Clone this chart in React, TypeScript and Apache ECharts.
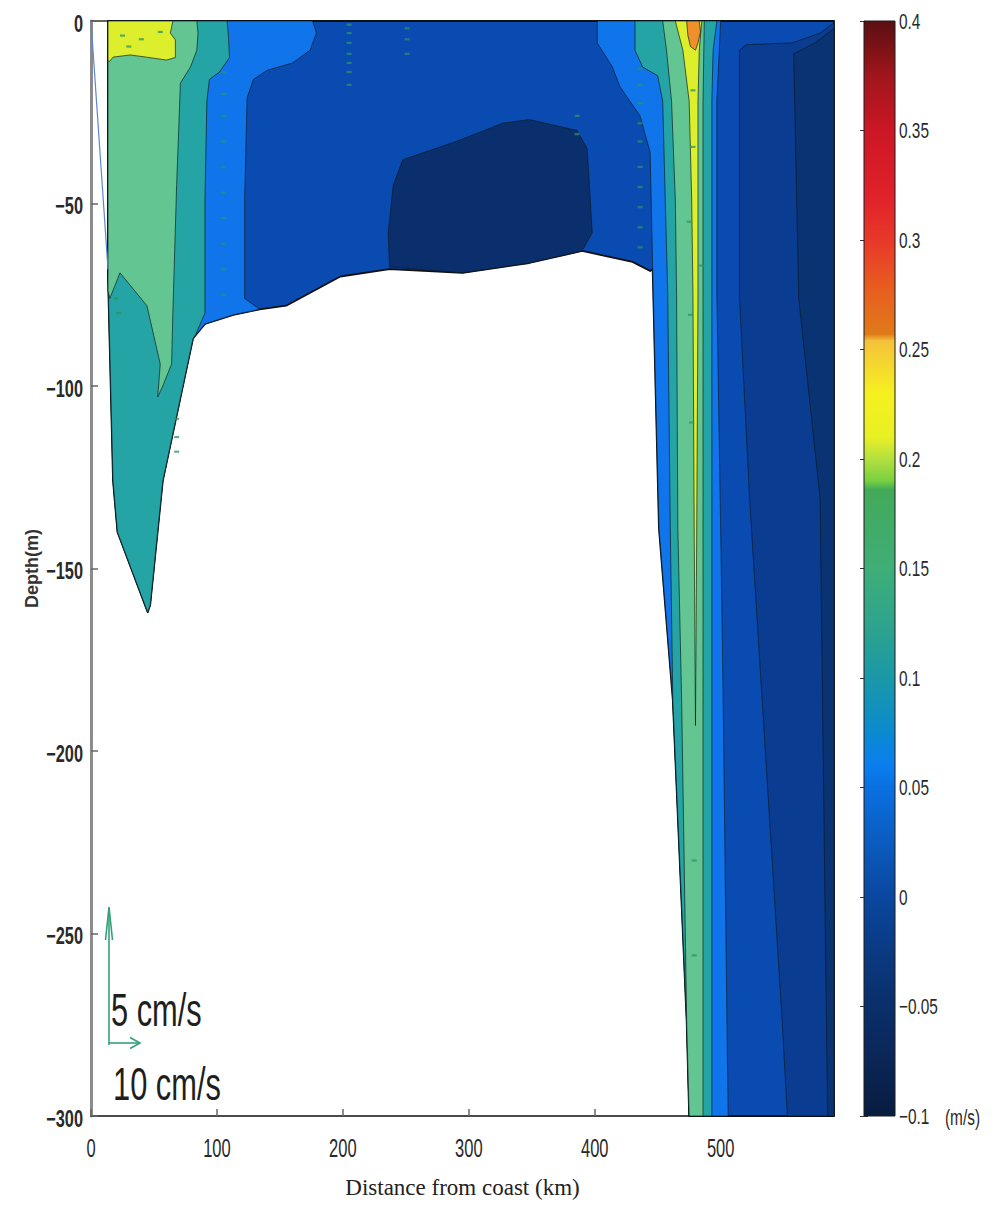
import React, { useEffect, useRef } from "react";
import * as echarts from "echarts";

type Pt = [number, number];

// ---------- axes / ticks ----------
const xTickValues = [0, 100, 200, 300, 400, 500];
const yTickValues = [0, -50, -100, -150, -200, -250, -300];
const xRange: Pt = [0, 590];
const yRange: Pt = [-300, 0];
const colorbarRange: Pt = [-0.1, 0.4];
const colorbarTickValues = [-0.1, -0.05, 0, 0.05, 0.1, 0.15, 0.2, 0.25, 0.3, 0.35, 0.4];

// ---------- contour regions (km, depth m) ----------
const coastLine: Pt[] = [[0, 0], [13.5, -68]];

const waterDomain: Pt[] = [
  [13.5, 0], [590, 0], [590, -300], [475, -300], [473, -274], [462, -186], [451, -139], [446, -68],
  [444, -68.5], [430, -66], [390, -63], [348, -66.3], [295, -69], [237, -68], [198, -70], [155, -78],
  [134, -79], [113, -80.5], [90.5, -83], [81, -87], [57, -126], [47, -160], [45, -162], [21, -140],
  [17.5, -126], [13.5, -70],
];
const navyCore: Pt[] = [
  [247.6, -38], [290, -33], [327, -28], [348, -27], [386, -30], [394, -35], [398, -58], [390, -63],
  [348, -66.3], [295, -69], [237, -67.4], [236, -58], [240, -45],
];
const rightMinus02: Pt[] = [
  [515, -8], [520, -6.5], [557, -6], [579, -3.3], [590, -0.5], [590, -300], [553, -300], [549, -275],
  [523, -131], [515, -76],
];
const rightMinus04: Pt[] = [
  [558, -9], [575, -6], [590, -2], [590, -300], [585, -300], [584, -275], [579, -131], [562, -76],
];
const leftBrightBlue: Pt[] = [
  [13.5, 0], [176, 0], [179, -3.3], [174, -8], [160, -11.5], [140, -13.5], [129, -16], [124, -21],
  [122, -49], [122, -76], [134, -79], [113, -80.5], [90.5, -83], [81, -87], [57, -126], [47, -160],
  [45, -162], [21, -140], [17.5, -126], [13.5, -70],
];
const leftTeal: Pt[] = [
  [13.5, 0], [108, 0], [109, -3.3], [110, -10], [102, -14], [94, -16], [92, -22], [90.5, -49],
  [90.5, -80], [83, -86], [81, -87], [57, -126], [47, -160], [45, -162], [21, -140], [17.5, -126],
  [13.5, -70],
];
const leftGreen: Pt[] = [
  [13.5, 0], [84, 0], [85, -3.3], [84, -8], [79, -12.6], [71, -17], [68, -45], [65, -80], [64, -94],
  [57, -100], [53, -103], [55, -94], [44.4, -78], [23, -69], [15, -76], [13.5, -74],
];
const leftYellow: Pt[] = [
  [13.5, 0], [65, 0], [63, -3.3], [67, -5.2], [67, -10], [60, -10.7], [44, -9.9], [31, -9.3],
  [17.5, -9.9], [15, -11], [13.5, -11],
];
const rightBrightBlue: Pt[] = [
  [402, 0], [402, -6], [414, -12.6], [420, -18], [436, -26], [444, -36], [446, -68], [451, -139],
  [462, -186], [473, -274], [475, -300], [506, -300], [505, -274], [502, -186], [500, -139],
  [497, -75], [497, -22], [500, 0],
];
const rightTeal: Pt[] = [
  [432, 0], [432, -8], [438, -12.6], [450, -15], [454, -22], [456, -49], [458, -75], [460, -139],
  [462, -186], [473, -274], [475, -300], [493, -300], [493, -22], [494, -8], [497, 0],
];
const rightGreen: Pt[] = [
  [454, 0], [457, -8], [461, -22], [464, -49], [465, -75], [466, -139], [469, -186], [473, -274],
  [475, -300], [486, -300], [486, -22], [487, 0],
];
const rightYellow: Pt[] = [
  [464, 0], [470, -8], [475, -22], [477, -49], [478, -75], [479, -140], [480, -193], [481, -140],
  [482, -75], [482, -22], [483, -8], [485, 0],
];
const rightOrange: Pt[] = [
  [473, 0], [483, 0], [484, -3], [482, -6], [480, -8], [476, -7], [474, -4],
];

const contourRegions: { level: number; pts: Pt[] }[] = [
  { level: 0, pts: waterDomain },
  { level: -0.05, pts: navyCore },
  { level: -0.02, pts: rightMinus02 },
  { level: -0.04, pts: rightMinus04 },
  { level: 0.05, pts: leftBrightBlue },
  { level: 0.1, pts: leftTeal },
  { level: 0.15, pts: leftGreen },
  { level: 0.2, pts: leftYellow },
  { level: 0.05, pts: rightBrightBlue },
  { level: 0.1, pts: rightTeal },
  { level: 0.15, pts: rightGreen },
  { level: 0.2, pts: rightYellow },
  { level: 0.25, pts: rightOrange },
];

// ---------- quiver stubs (tiny vertical-velocity arrows), km / m ----------
const quiverStubs: Pt[] = [
  [105, -14], [105, -20], [105, -26], [105, -33], [105, -40], [105, -47], [105, -54], [105, -61], [105, -68], [105, -75],
  [205, -1], [205, -3.3], [205, -6], [205, -9], [205, -11.5], [205, -14], [205, -17.5],
  [251, -2], [251, -5], [251, -9],
  [386, -26], [386, -31],
  [436, -13], [436, -17.5], [436, -22.5], [436, -28], [436, -33], [436, -40], [436, -45.5], [436, -51], [436, -56.5], [436, -62],
  [478, -19], [478, -34.5], [475, -55], [485, -67], [476, -80.5], [477, -110], [479, -230], [479, -256],
  [68, -109], [68, -114], [68, -118], [20, -76], [22, -80],
  [25, -4], [40, -5], [55, -3], [30, -7],
];

// ---------- styles ----------
const levelPalette: Record<string, string> = {
  "-0.05": "#0b2f6c",
  "-0.04": "#0a3374",
  "-0.02": "#0a3d92",
  "0": "#0a4bb2",
  "0.05": "#1074ea",
  "0.1": "#25a4a6",
  "0.15": "#63c591",
  "0.2": "#dcee2c",
  "0.25": "#f0902c",
};

const colorbarStops: [number, string][] = [
  [0.4, "#5a0f12"],
  [0.375, "#a0161c"],
  [0.35, "#cc1626"],
  [0.32, "#e0222a"],
  [0.3, "#e8382a"],
  [0.28, "#e85a20"],
  [0.257, "#e07a1a"],
  [0.254, "#f4c23a"],
  [0.23, "#f6f020"],
  [0.21, "#e8f024"],
  [0.2, "#b4e040"],
  [0.19, "#78d040"],
  [0.186, "#42aa58"],
  [0.15, "#3fae78"],
  [0.12, "#2aa290"],
  [0.1, "#1a98a8"],
  [0.075, "#0b8ad0"],
  [0.06, "#0a7ef0"],
  [0.05, "#0a70e0"],
  [0.025, "#0a5cc0"],
  [0, "#0a47a0"],
  [-0.025, "#0a3a82"],
  [-0.05, "#0a2f6a"],
  [-0.075, "#0a2656"],
  [-0.1, "#081c40"],
];

const labelFont = "'Liberation Sans', 'Arimo', sans-serif";
const minusFmt = (v: number) => {
  const r = Math.round(v * 1000) / 1000;
  return String(r).replace("-", "\u2212");
};

export default function App() {
  const ref = useRef<HTMLDivElement>(null);
  useEffect(() => {
    if (!ref.current) return;
    const chart = echarts.init(ref.current, undefined, { renderer: "svg" });
    const span = colorbarRange[1] - colorbarRange[0];
    const gradStops = colorbarStops.map(([v, c]) => ({ offset: (colorbarRange[1] - v) / span, color: c }));
    const arrowColor = "#35a07a";
    const option: any = {
      animation: false,
      backgroundColor: "#ffffff",
      grid: [
        { left: 91, top: 21, width: 743, height: 1095, outerBoundsMode: "none", containLabel: false },
        { left: 864, top: 21, width: 31, height: 1095, outerBoundsMode: "none", containLabel: false },
      ],
      xAxis: [
        {
          gridIndex: 0, type: "value", min: xRange[0], max: xRange[1], interval: 100, position: "bottom",
          axisLine: { show: true, onZero: false, lineStyle: { color: "#4a4a4a", width: 2 } },
          axisTick: { show: true, inside: true, length: 7, lineStyle: { color: "#666", width: 1.5 } },
          axisLabel: { show: false },
          splitLine: { show: false },
          name: "Distance from coast (km)", nameLocation: "middle", nameGap: 60, nameMoveOverlap: false,
          nameTextStyle: { fontSize: 23, fontFamily: "'Liberation Serif', 'DejaVu Serif', serif", color: "#222" },
        },
        {
          gridIndex: 0, type: "value", min: xRange[0], max: xRange[1], position: "top",
          axisLine: { show: true, onZero: false, lineStyle: { color: "#333", width: 1.5 } },
          axisTick: { show: false }, axisLabel: { show: false }, splitLine: { show: false },
        },
        { gridIndex: 1, type: "value", min: 0, max: 1, show: false },
      ],
      yAxis: [
        {
          gridIndex: 0, type: "value", min: yRange[0], max: yRange[1], interval: 50,
          axisLine: { show: true, onZero: false, lineStyle: { color: "#8c8c8c", width: 3 } },
          axisTick: { show: true, inside: true, length: 7, lineStyle: { color: "#666", width: 1.5 } },
          axisLabel: { show: false },
          splitLine: { show: false },
          name: "Depth(m)", nameLocation: "middle", nameGap: 50, nameRotate: 90, nameMoveOverlap: false,
          nameTextStyle: { fontSize: 18, fontWeight: "bold", fontFamily: "'Liberation Sans', 'Open Sans', sans-serif", color: "#333" },
        },
        {
          gridIndex: 1, type: "value", min: colorbarRange[0], max: colorbarRange[1], interval: 0.05, position: "right",
          axisLine: { show: false },
          axisTick: { show: true, inside: true, length: 4, lineStyle: { color: "#333", width: 1 } },
          axisLabel: { show: false },
          splitLine: { show: false },
        },
        {
          gridIndex: 1, type: "value", min: colorbarRange[0], max: colorbarRange[1], interval: 0.05, position: "left",
          axisLine: { show: false },
          axisTick: { show: true, inside: true, length: 4, lineStyle: { color: "#333", width: 1 } },
          axisLabel: { show: false },
          splitLine: { show: false },
        },
      ],
      series: [
        {
          type: "custom", coordinateSystem: "cartesian2d", xAxisIndex: 0, yAxisIndex: 0, silent: true, z: 2,
          data: contourRegions.map((r, i) => [i, r.level]),
          renderItem: (params: any, api: any) => {
            const r = contourRegions[params.dataIndex];
            const points = r.pts.map((p) => api.coord(p));
            const isDomain = params.dataIndex === 0;
            return {
              type: "polygon",
              shape: { points },
              style: {
                fill: levelPalette[String(r.level)],
                stroke: isDomain ? "#101010" : "rgba(10,25,30,0.75)",
                lineWidth: isDomain ? 1.8 : 0.9,
                lineJoin: "round",
              },
            };
          },
        },
        {
          type: "scatter", xAxisIndex: 0, yAxisIndex: 0, data: quiverStubs, silent: true, z: 4,
          symbol: "rect", symbolSize: [5, 2.2],
          itemStyle: { color: "#2b9460", opacity: 0.75 },
        },
        {
          type: "line", xAxisIndex: 0, yAxisIndex: 0, data: coastLine, symbol: "none", silent: true, z: 3,
          lineStyle: { color: "#5b86d6", width: 1.2 },
        },
        {
          type: "custom", coordinateSystem: "cartesian2d", xAxisIndex: 2, yAxisIndex: 1, silent: true, z: 2,
          data: [[0, colorbarRange[0]]],
          renderItem: (_params: any, api: any) => {
            const p1 = api.coord([0, colorbarRange[1]]);
            const p2 = api.coord([1, colorbarRange[0]]);
            return {
              type: "rect",
              shape: { x: p1[0], y: p1[1], width: p2[0] - p1[0], height: p2[1] - p1[1] },
              style: { fill: new echarts.graphic.LinearGradient(0, 0, 0, 1, gradStops), stroke: "#1a1a1a", lineWidth: 1 },
            };
          },
        },
      ],
    };
    chart.setOption(option);

    // tick labels placed through the axes' own scales, drawn as condensed text
    const labels: any[] = [];
    xTickValues.forEach((v) => {
      const p = chart.convertToPixel({ gridIndex: 0 }, [v, yRange[0]]) as number[];
      labels.push({
        type: "text", x: p[0], y: p[1] + 20, scaleX: 0.66, z: 10,
        style: { text: String(v), fontSize: 25, fontFamily: labelFont, fill: "#2a2a2a", align: "center", verticalAlign: "top" },
      });
    });
    yTickValues.forEach((v) => {
      const p = chart.convertToPixel({ gridIndex: 0 }, [xRange[0], v]) as number[];
      labels.push({
        type: "text", x: p[0] - 8, y: p[1] + 2, scaleX: 0.68, z: 10,
        style: { text: minusFmt(v), fontSize: 24, fontWeight: "bold", fontFamily: labelFont, fill: "#2a2a2a", align: "right", verticalAlign: "middle" },
      });
    });
    colorbarTickValues.forEach((v) => {
      const p = chart.convertToPixel({ xAxisIndex: 2, yAxisIndex: 1 }, [1, v]) as number[];
      labels.push({
        type: "text", x: p[0] + 4, y: p[1], scaleX: 0.7, z: 10,
        style: { text: minusFmt(v), fontSize: 22, fontFamily: labelFont, fill: "#2a2a2a", align: "left", verticalAlign: "middle" },
      });
    });
    const bottomCb = chart.convertToPixel({ xAxisIndex: 2, yAxisIndex: 1 }, [1, colorbarRange[0]]) as number[];
    labels.push({
      type: "text", x: bottomCb[0] + 50, y: bottomCb[1] + 1, scaleX: 0.7, z: 10,
      style: { text: "(m/s)", fontSize: 22, fontFamily: labelFont, fill: "#2a2a2a", align: "left", verticalAlign: "middle" },
    });

    const legend: any[] = [
      { type: "polyline", shape: { points: [[109, 1045], [109, 908]] }, style: { stroke: arrowColor, lineWidth: 1.6, fill: "none" }, z: 10 },
      { type: "polyline", shape: { points: [[105.5, 940], [109, 907], [112.5, 940]] }, style: { stroke: arrowColor, lineWidth: 1.6, fill: "none" }, z: 10 },
      { type: "polyline", shape: { points: [[109, 1043], [140, 1043]] }, style: { stroke: arrowColor, lineWidth: 1.6, fill: "none" }, z: 10 },
      { type: "polyline", shape: { points: [[130, 1037.5], [140, 1043], [130, 1048.5]] }, style: { stroke: arrowColor, lineWidth: 1.6, fill: "none" }, z: 10 },
      {
        type: "text", x: 111, y: 1010, scaleX: 0.67, z: 10,
        style: { text: "5 cm/s", fontSize: 46, fontFamily: labelFont, fill: "#1e1e1e", verticalAlign: "middle", align: "left" },
      },
      {
        type: "text", x: 113, y: 1084, scaleX: 0.67, z: 10,
        style: { text: "10 cm/s", fontSize: 46, fontFamily: labelFont, fill: "#1e1e1e", verticalAlign: "middle", align: "left" },
      },
    ];
    chart.setOption({ graphic: { elements: [...legend, ...labels] } });
    return () => chart.dispose();
  }, []);
  return <div ref={ref} style={{ position: "fixed", left: 0, top: 0, width: 995, height: 1209, background: "#fff" }} />;
}
